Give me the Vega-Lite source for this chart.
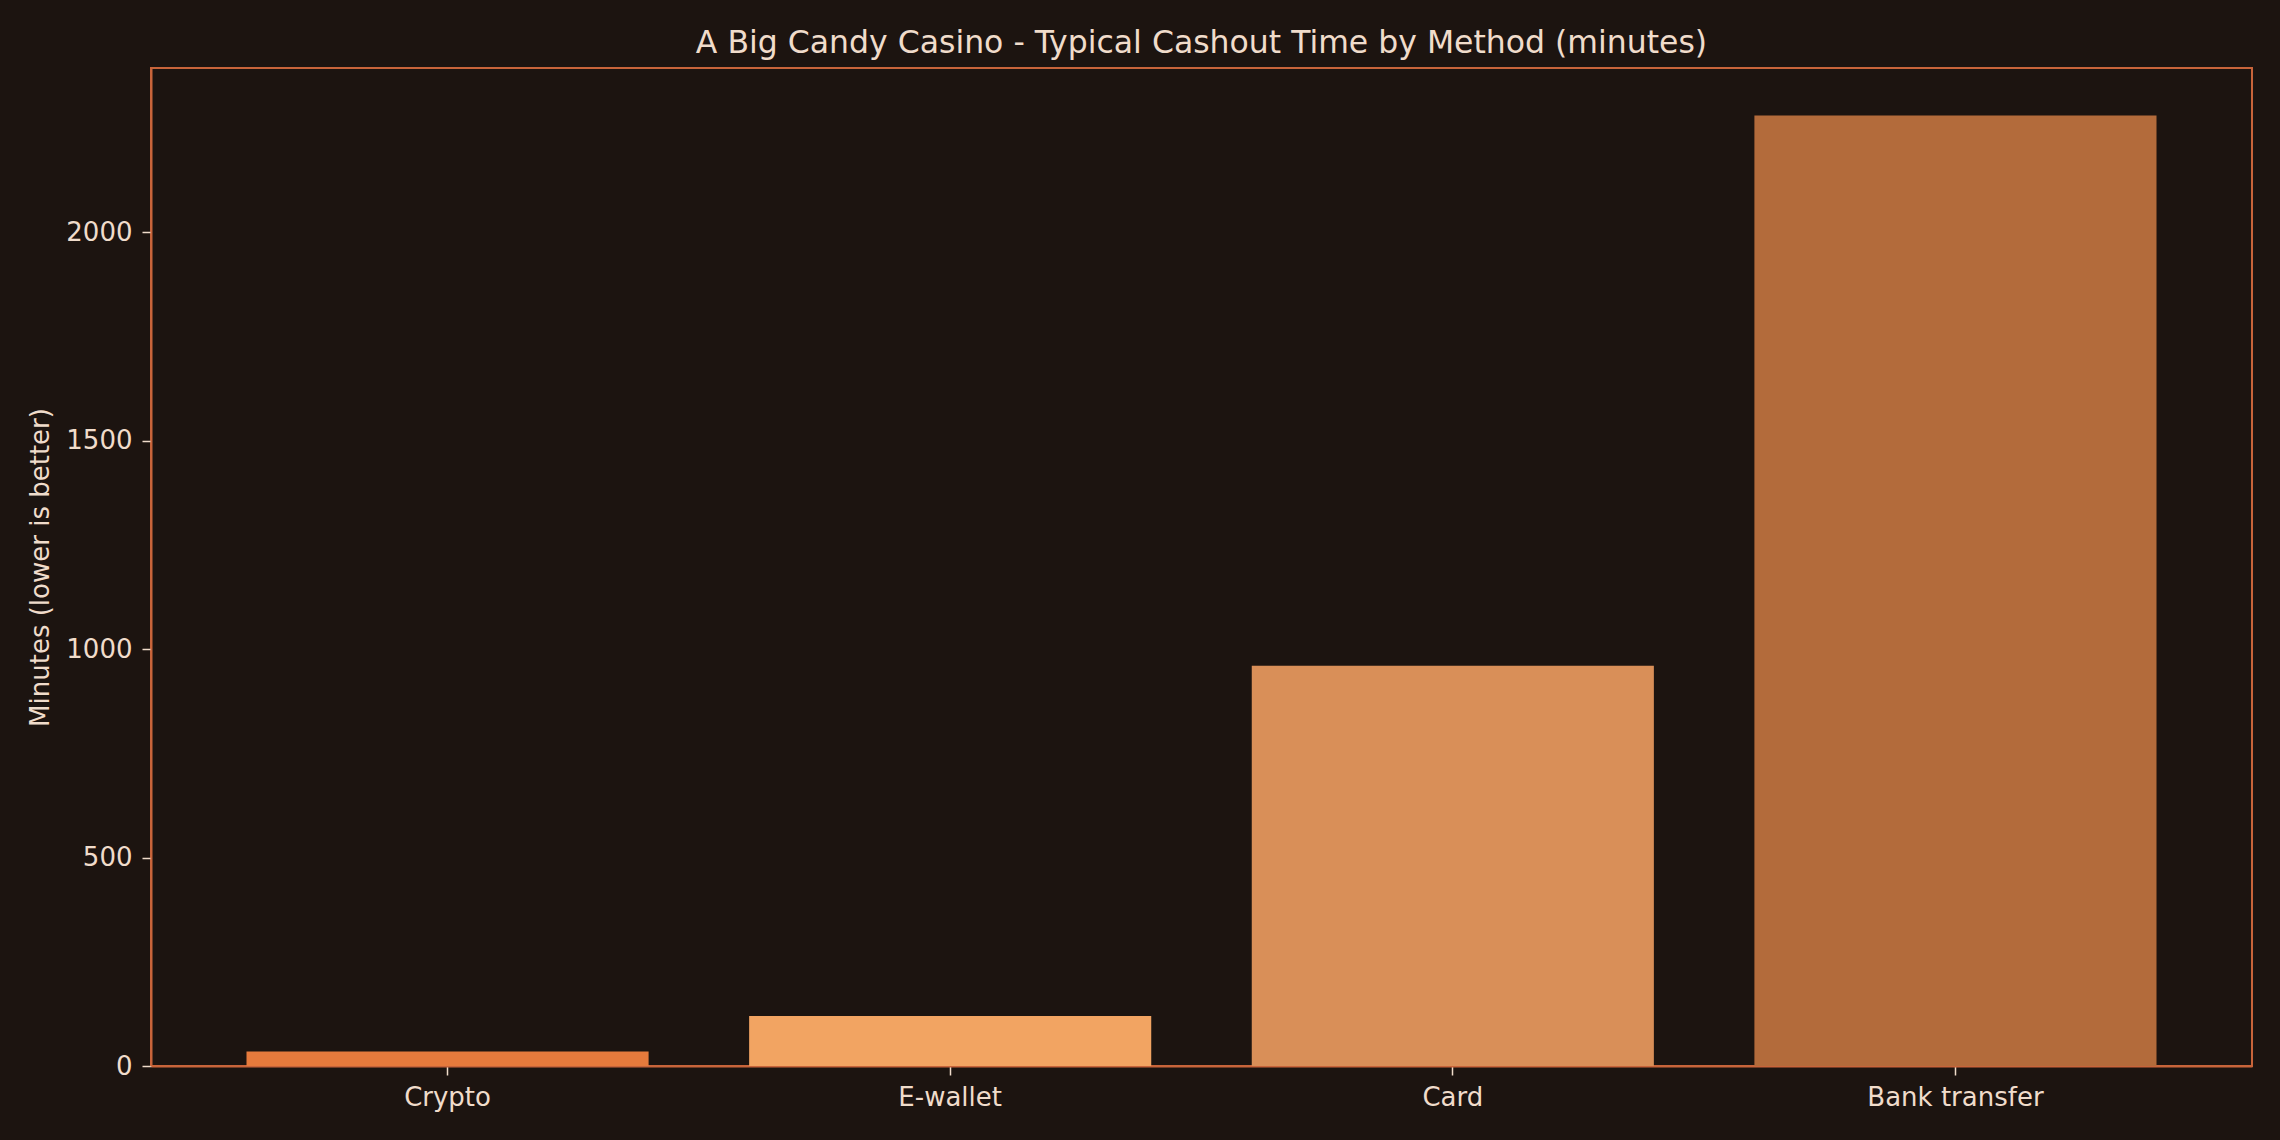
{
  "$schema": "https://vega.github.io/schema/vega-lite/v6.json",
  "width": 2101,
  "height": 998,
  "autosize": {"type": "none"},
  "padding": {"left": 151, "top": 68, "right": 28, "bottom": 74},
  "background": "#1c1410",
  "title": {
    "text": "A Big Candy Casino - Typical Cashout Time by Method (minutes)",
    "color": "#f0dccb",
    "font": "DejaVu Sans",
    "fontSize": 31.5,
    "fontWeight": "normal",
    "anchor": "middle",
    "offset": 9
  },
  "config": {
    "view": {"stroke": "#c8643a", "strokeWidth": 2},
    "font": "DejaVu Sans"
  },
  "data": {
    "values": [
      {"method": "Crypto", "minutes": 35, "colour": "#e67a3c"},
      {"method": "E-wallet", "minutes": 120, "colour": "#f2a462"},
      {"method": "Card", "minutes": 960, "colour": "#d98f58"},
      {"method": "Bank transfer", "minutes": 2280, "colour": "#b36b3b"}
    ]
  },
  "mark": {"type": "bar"},
  "encoding": {
    "x": {
      "field": "method",
      "type": "nominal",
      "sort": null,
      "scale": {"paddingInner": 0.2, "paddingOuter": 0.19},
      "axis": {
        "title": null,
        "labelAngle": 0,
        "labelFont": "DejaVu Sans",
        "labelFontSize": 26,
        "labelColor": "#f0dccb",
        "labelPadding": 9,
        "tickColor": "#f0dccb",
        "tickSize": 9,
        "tickWidth": 1.5,
        "domainColor": "#c8643a",
        "domainWidth": 2
      }
    },
    "y": {
      "field": "minutes",
      "type": "quantitative",
      "scale": {"domain": [0, 2394], "nice": false},
      "axis": {
        "title": "Minutes (lower is better)",
        "titleFont": "DejaVu Sans",
        "titleFontSize": 26,
        "titleFontWeight": "normal",
        "titleColor": "#f0dccb",
        "titlePadding": 12,
        "values": [0, 500, 1000, 1500, 2000],
        "format": "d",
        "grid": false,
        "labelFont": "DejaVu Sans",
        "labelFontSize": 26,
        "labelColor": "#f0dccb",
        "labelPadding": 10,
        "tickColor": "#f0dccb",
        "tickSize": 9,
        "tickWidth": 1.5,
        "domainColor": "#c8643a",
        "domainWidth": 2
      }
    },
    "color": {"field": "colour", "type": "nominal", "scale": null, "legend": null}
  }
}
